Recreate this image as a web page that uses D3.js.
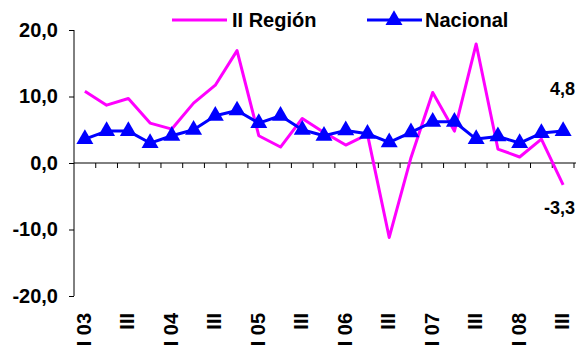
<!DOCTYPE html>
<html>
<head>
<meta charset="utf-8">
<script src="https://cdn.jsdelivr.net/npm/d3@7"></script>
<style>
  body { margin: 0; background: #fff; }
  svg { display: block; font-family: "Liberation Sans", Arial, sans-serif; font-weight: bold; }
</style>
</head>
<body>
<svg id="chart" width="578" height="348"></svg>
<script>
// Quarterly variation (%), 2003 Q1 – 2008 Q3
const quarters = [
  "I 03","II 03","III 03","IV 03",
  "I 04","II 04","III 04","IV 04",
  "I 05","II 05","III 05","IV 05",
  "I 06","II 06","III 06","IV 06",
  "I 07","II 07","III 07","IV 07",
  "I 08","II 08","III 08"
];
const tickLabels = ["I 03","III","I 04","III","I 05","III","I 06","III","I 07","III","I 08","III"];
const region = [10.8, 8.7, 9.7, 6.0, 5.1, 9.0, 11.7, 16.9, 4.1, 2.4, 6.7, 4.6,
                2.7, 4.3, -11.2, 0.8, 10.6, 4.8, 17.9, 2.1, 0.9, 3.6, -3.3];
const nacional = [3.6, 4.8, 4.8, 3.0, 4.1, 5.0, 7.1, 7.9, 6.0, 7.1, 5.0, 4.1,
                  4.9, 4.4, 3.1, 4.6, 6.2, 6.2, 3.6, 4.0, 3.0, 4.5, 4.8];
const yTicks = [-20, -10, 0, 10, 20];

const svg = d3.select("#chart");
const plotLeft = 74, plotRight = 574, plotTop = 30, plotBottom = 296;

const x = d3.scaleBand().domain(quarters).range([plotLeft, plotRight]);
const y = d3.scaleLinear().domain([-20, 20]).range([plotBottom, plotTop]);
// Decimal comma, plain hyphen for negatives
const fmt = v => d3.format(".1f")(v).replace(".", ",").replace("\u2212", "-");
const cx = d => x(d) + x.bandwidth() / 2;

// Y axis
const yAxis = svg.append("g")
  .attr("transform", `translate(${plotLeft},0)`)
  .call(d3.axisLeft(y).tickValues(yTicks).tickSize(5).tickPadding(11).tickFormat(fmt));
yAxis.select(".domain").attr("stroke", "#000").attr("d", `M0,${plotTop}V${plotBottom}`);
yAxis.selectAll(".tick line").attr("stroke", "#000");
yAxis.selectAll("text").attr("font-size", 20).attr("font-weight", "bold")
  .attr("font-family", "Liberation Sans, Arial, sans-serif").attr("fill", "#000");

// X axis along zero, ticks at quarter boundaries
const xAxisG = svg.append("g").attr("transform", `translate(0,${y(0)})`);
xAxisG.append("line").attr("x1", plotLeft).attr("x2", plotRight + 2).attr("stroke", "#000");
const bounds = quarters.map(q => x(q)).concat([plotRight]);
xAxisG.selectAll("line.tick").data(bounds.slice(1)).join("line")
  .attr("class", "tick").attr("x1", d => d).attr("x2", d => d)
  .attr("y1", 0).attr("y2", 5).attr("stroke", "#000");

// Category labels, every second quarter, rotated
svg.append("g").selectAll("text")
  .data(quarters.filter((q, i) => i % 2 === 0).map((q, i) => ({ q, label: tickLabels[i] })))
  .join("text")
  .attr("transform", d => `translate(${cx(d.q) + 6},313) rotate(-90)`)
  .attr("text-anchor", "end")
  .attr("font-size", 20)
  .text(d => d.label);

// Series lines
const line = series => d3.line().x((d, i) => cx(quarters[i])).y(d => y(d))(series);

svg.append("path").attr("d", line(region))
  .attr("fill", "none").attr("stroke", "#ff00ff").attr("stroke-width", 3)
  .attr("stroke-linejoin", "round");

svg.append("path").attr("d", line(nacional))
  .attr("fill", "none").attr("stroke", "#0000ff").attr("stroke-width", 3)
  .attr("stroke-linejoin", "round");

const tri = d3.symbol().type(d3.symbolTriangle).size(125);
svg.append("g").selectAll("path").data(nacional).join("path")
  .attr("d", tri)
  .attr("transform", (d, i) => `translate(${cx(quarters[i])},${y(d)})`)
  .attr("fill", "#0000ff");

// Last-value labels
const last = quarters.length - 1;
svg.append("text").attr("x", 575).attr("y", 95).attr("text-anchor", "end")
  .attr("font-size", 18).text(fmt(nacional[last]));
svg.append("text").attr("x", 575).attr("y", 214).attr("text-anchor", "end")
  .attr("font-size", 18).text(fmt(region[last]));

// Legend
const lg = svg.append("g");
lg.append("line").attr("x1", 172).attr("x2", 227).attr("y1", 20).attr("y2", 20)
  .attr("stroke", "#ff00ff").attr("stroke-width", 3);
lg.append("text").attr("x", 232).attr("y", 27).attr("font-size", 20).text("II Región");
lg.append("line").attr("x1", 367).attr("x2", 422).attr("y1", 20).attr("y2", 20)
  .attr("stroke", "#0000ff").attr("stroke-width", 3);
lg.append("path").attr("d", tri).attr("transform", "translate(394,20)").attr("fill", "#0000ff");
lg.append("text").attr("x", 425).attr("y", 27).attr("font-size", 20).text("Nacional");
</script>
</body>
</html>
